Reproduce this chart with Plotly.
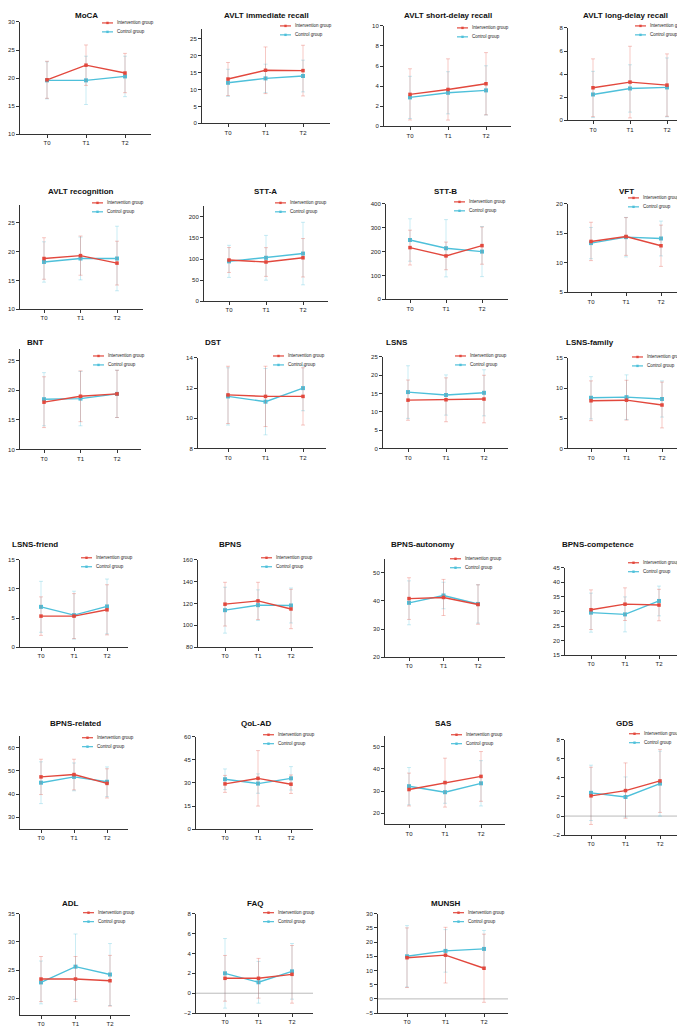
import math
import plotly.graph_objects as go

timepoints = ["T0", "T1", "T2"]
legend_labels = ["Intervention group", "Control group"]

# ---- data (mean, SD) ----
moca_int_mean = [19.7, 22.3, 20.9]; moca_int_sd = [3.3, 3.6, 3.5]
moca_ctl_mean = [19.6, 19.6, 20.3]; moca_ctl_sd = [3.3, 4.3, 3.6]

avltim_int_mean = [13.1, 15.7, 15.6]; avltim_int_sd = [4.9, 6.9, 7.5]
avltim_ctl_mean = [12.0, 13.3, 14.0]; avltim_ctl_sd = [4.0, 4.2, 4.7]

avltsd_int_mean = [3.18, 3.67, 4.24]; avltsd_int_sd = [2.55, 3.05, 3.1]
avltsd_ctl_mean = [2.88, 3.34, 3.58]; avltsd_ctl_sd = [2.1, 2.1, 2.45]

avltld_int_mean = [2.82, 3.31, 3.05]; avltld_int_sd = [2.5, 3.1, 2.7]
avltld_ctl_mean = [2.24, 2.76, 2.85]; avltld_ctl_sd = [2.0, 2.05, 2.55]

avltrec_int_mean = [18.8, 19.3, 18.0]; avltrec_int_sd = [3.6, 3.4, 3.8]
avltrec_ctl_mean = [18.2, 18.8, 18.8]; avltrec_ctl_sd = [3.5, 3.7, 5.6]

stta_int_mean = [97.7, 93.0, 103.0]; stta_int_sd = [29.5, 34.0, 45.5]
stta_ctl_mean = [94.5, 103.0, 113.0]; stta_ctl_sd = [38.0, 53.0, 74.0]

sttb_int_mean = [216.7, 181.9, 225.0]; sttb_int_sd = [73.0, 58.0, 78.0]
sttb_ctl_mean = [248.6, 214.0, 200.0]; sttb_ctl_sd = [89.0, 120.0, 105.0]

vft_int_mean = [13.63, 14.47, 12.9]; vft_int_sd = [3.25, 3.2, 3.5]
vft_ctl_mean = [13.35, 14.36, 14.13]; vft_ctl_sd = [2.65, 3.35, 2.95]

bnt_int_mean = [18.0, 19.0, 19.4]; bnt_int_sd = [4.3, 4.3, 4.0]
bnt_ctl_mean = [18.5, 18.6, 19.4]; bnt_ctl_sd = [4.5, 4.6, 4.0]

dst_int_mean = [11.55, 11.45, 11.45]; dst_int_sd = [1.9, 2.0, 1.9]
dst_ctl_mean = [11.45, 11.1, 12.0]; dst_ctl_sd = [1.9, 2.2, 1.5]

lsns_int_mean = [13.2, 13.3, 13.5]; lsns_int_sd = [5.5, 6.0, 6.5]
lsns_ctl_mean = [15.4, 14.6, 15.2]; lsns_ctl_sd = [7.2, 5.5, 6.3]

lsnsfam_int_mean = [7.9, 8.0, 7.2]; lsnsfam_int_sd = [3.3, 3.3, 3.8]
lsnsfam_ctl_mean = [8.4, 8.5, 8.2]; lsnsfam_ctl_sd = [3.5, 3.7, 3.0]

lsnsfr_int_mean = [5.34, 5.34, 6.42]; lsnsfr_int_sd = [3.3, 3.86, 4.3]
lsnsfr_ctl_mean = [6.93, 5.51, 7.0]; lsnsfr_ctl_sd = [4.37, 4.1, 4.7]

bpns_int_mean = [119.4, 122.4, 115.0]; bpns_int_sd = [20.0, 17.0, 18.0]
bpns_ctl_mean = [113.9, 118.5, 118.2]; bpns_ctl_sd = [21.0, 14.0, 16.0]

bpnsaut_int_mean = [40.8, 41.2, 38.7]; bpnsaut_int_sd = [7.4, 6.4, 7.0]
bpnsaut_ctl_mean = [39.3, 41.9, 38.9]; bpnsaut_ctl_sd = [7.8, 4.7, 6.8]

bpnscomp_int_mean = [30.6, 32.5, 32.2]; bpnscomp_int_sd = [6.8, 5.6, 5.4]
bpnscomp_ctl_mean = [29.6, 29.0, 33.6]; bpnscomp_ctl_sd = [6.7, 6.0, 5.1]

bpnsrel_int_mean = [47.4, 48.4, 44.6]; bpnsrel_int_sd = [7.6, 6.6, 6.3]
bpnsrel_ctl_mean = [44.9, 47.4, 45.3]; bpnsrel_ctl_sd = [9.0, 6.0, 6.4]

qol_int_mean = [29.4, 33.0, 29.2]; qol_int_sd = [5.5, 18.0, 6.0]
qol_ctl_mean = [32.4, 29.6, 33.0]; qol_ctl_sd = [6.7, 6.3, 7.6]

sas_int_mean = [30.7, 33.8, 36.6]; sas_int_sd = [7.4, 11.0, 11.2]
sas_ctl_mean = [32.2, 29.5, 33.5]; sas_ctl_sd = [8.4, 5.0, 10.2]

gds_int_mean = [2.12, 2.67, 3.68]; gds_int_sd = [3.0, 2.9, 3.3]
gds_ctl_mean = [2.43, 2.0, 3.4]; gds_ctl_sd = [2.9, 2.1, 3.4]

adl_int_mean = [23.4, 23.4, 23.1]; adl_int_sd = [4.0, 4.0, 4.5]
adl_ctl_mean = [22.8, 25.6, 24.2]; adl_ctl_sd = [3.8, 5.8, 5.5]

faq_int_mean = [1.5, 1.5, 1.9]; faq_int_sd = [2.3, 2.0, 2.9]
faq_ctl_mean = [2.0, 1.1, 2.2]; faq_ctl_sd = [3.5, 2.1, 2.8]

munsh_int_mean = [14.5, 15.4, 10.8]; munsh_int_sd = [10.5, 9.8, 12.0]
munsh_ctl_mean = [15.0, 16.9, 17.6]; munsh_ctl_sd = [10.8, 7.5, 6.5]

titles = ["MoCA", "AVLT immediate recall", "AVLT short-delay recall", "AVLT long-delay recall",
          "AVLT recognition", "STT-A", "STT-B", "VFT",
          "BNT", "DST", "LSNS", "LSNS-family",
          "LSNS-friend", "BPNS", "BPNS-autonomy", "BPNS-competence",
          "BPNS-related", "QoL-AD", "SAS", "GDS",
          "ADL", "FAQ", "MUNSH"]

series = [
    (moca_int_mean, moca_int_sd, moca_ctl_mean, moca_ctl_sd),
    (avltim_int_mean, avltim_int_sd, avltim_ctl_mean, avltim_ctl_sd),
    (avltsd_int_mean, avltsd_int_sd, avltsd_ctl_mean, avltsd_ctl_sd),
    (avltld_int_mean, avltld_int_sd, avltld_ctl_mean, avltld_ctl_sd),
    (avltrec_int_mean, avltrec_int_sd, avltrec_ctl_mean, avltrec_ctl_sd),
    (stta_int_mean, stta_int_sd, stta_ctl_mean, stta_ctl_sd),
    (sttb_int_mean, sttb_int_sd, sttb_ctl_mean, sttb_ctl_sd),
    (vft_int_mean, vft_int_sd, vft_ctl_mean, vft_ctl_sd),
    (bnt_int_mean, bnt_int_sd, bnt_ctl_mean, bnt_ctl_sd),
    (dst_int_mean, dst_int_sd, dst_ctl_mean, dst_ctl_sd),
    (lsns_int_mean, lsns_int_sd, lsns_ctl_mean, lsns_ctl_sd),
    (lsnsfam_int_mean, lsnsfam_int_sd, lsnsfam_ctl_mean, lsnsfam_ctl_sd),
    (lsnsfr_int_mean, lsnsfr_int_sd, lsnsfr_ctl_mean, lsnsfr_ctl_sd),
    (bpns_int_mean, bpns_int_sd, bpns_ctl_mean, bpns_ctl_sd),
    (bpnsaut_int_mean, bpnsaut_int_sd, bpnsaut_ctl_mean, bpnsaut_ctl_sd),
    (bpnscomp_int_mean, bpnscomp_int_sd, bpnscomp_ctl_mean, bpnscomp_ctl_sd),
    (bpnsrel_int_mean, bpnsrel_int_sd, bpnsrel_ctl_mean, bpnsrel_ctl_sd),
    (qol_int_mean, qol_int_sd, qol_ctl_mean, qol_ctl_sd),
    (sas_int_mean, sas_int_sd, sas_ctl_mean, sas_ctl_sd),
    (gds_int_mean, gds_int_sd, gds_ctl_mean, gds_ctl_sd),
    (adl_int_mean, adl_int_sd, adl_ctl_mean, adl_ctl_sd),
    (faq_int_mean, faq_int_sd, faq_ctl_mean, faq_ctl_sd),
    (munsh_int_mean, munsh_int_sd, munsh_ctl_mean, munsh_ctl_sd),
]

# ---- layout geometry (pixels) ----
W, H = 685, 1026
# (x_left, T0_px, T2_px, x_right, y_bottom_px, y_top_px, ymin, ymax, dtick, zero_line)
geom = [
    (12, 39, 117, 143, 124, 11, 10, 30, 5, False),
    (194, 220, 295, 322, 113, 17.8, 0, 28, 5, False),
    (376, 402, 478, 503, 116, 15, 0, 10, 2, False),
    (560, 585, 659, 683, 110, 17, 0, 8, 2, False),
    (12, 36, 109, 135, 300, 195.6, 10, 28, 5, False),
    (196, 221, 295, 320, 292, 196.4, 0, 225, 50, False),
    (378, 402, 474, 500, 290, 194, 0, 400, 100, False),
    (560, 583, 653, 677, 283, 194, 5, 20, 5, False),
    (12, 36, 109, 133, 441, 340, 10, 27, 5, False),
    (190, 220, 295, 318, 440, 349, 8, 14, 2, False),
    (375, 400, 476, 500, 440, 348, 0, 25, 5, False),
    (560, 583, 654, 677, 440, 349, 0, 15, 5, False),
    (12, 33, 99, 120, 640, 552, 0, 15, 5, False),
    (190, 217, 283, 305, 640, 552, 80, 160, 20, False),
    (377, 401, 470, 497, 650, 550.8, 20, 55, 10, False),
    (557, 583, 651, 673, 648, 560, 15, 45, 5, False),
    (12, 33, 99, 120, 822.7, 729.3, 25, 65, 10, False),
    (188, 217, 283, 305, 823, 730, 0, 60, 15, False),
    (377, 401, 473, 497, 818.2, 728.8, 15, 55, 10, False),
    (557, 583, 652, 675, 829, 733, -2, 8, 2, True),
    (12, 33, 102, 122, 1010, 908, 17, 35, 5, False),
    (188, 217, 284, 305, 1008, 908, -2, 8, 2, True),
    (370, 399, 476, 500, 1008, 908, -5, 30, 5, True),
]
# title centre (x, y) px
title_pos = [(78, 5), (258, 5), (440, 5), (617, 5),
             (73, 182), (257, 182), (437, 182), (618, 182),
             (27, 333), (205, 333), (389, 333), (582, 333),
             (27, 537), (222, 537), (415, 537), (590, 537),
             (67, 717), (248, 717), (435, 717), (617, 717),
             (62, 898), (247, 898), (438, 898)]
# legend line start x, first row y (px)
legend_pos = [(94, 12), (272, 15), (449, 17), (627, 15),
              (84, 193), (267, 193), (446, 192), (620, 188),
              (85, 347), (265, 347), (447, 347), (624, 348),
              (73, 550), (253, 550), (442, 551), (620, 555),
              (74, 731), (255, 728), (443, 728), (621, 727),
              (75, 907), (255, 907), (445, 907)]

RED = "#E2483D"
CYAN = "#4EC0DA"
RED_ERR = "rgba(226,72,61,0.30)"
CYAN_ERR = "rgba(78,192,218,0.30)"
FONT = "Liberation Sans, Arial, sans-serif"

fig = go.Figure()
layout = dict(width=W, height=H, margin=dict(l=0, r=0, t=0, b=0),
              paper_bgcolor="white", plot_bgcolor="white", showlegend=False,
              font=dict(family=FONT, color="#222"))
shapes = []
annotations = []


def px_x(v):
    return v / W


def px_y(v):
    return 1 - v / H


for i, (g, s) in enumerate(zip(geom, series)):
    n = i + 1
    xl, t0, t2, xr, yb, yt, ymin, ymax, dt, zero = g
    sp = (t2 - t0) / 2.0
    xr0 = -(t0 - xl) / sp
    xr1 = 2 + (xr - t2) / sp
    xa = "x" if n == 1 else f"x{n}"
    ya = "y" if n == 1 else f"y{n}"
    xkey = "xaxis" if n == 1 else f"xaxis{n}"
    ykey = "yaxis" if n == 1 else f"yaxis{n}"
    im, isd, cm, csd = s
    fig.add_trace(go.Scatter(
        x=[0, 1, 2], y=cm, xaxis=xa, yaxis=ya, mode="lines+markers",
        line=dict(color=CYAN, width=1.4), marker=dict(symbol="square", size=4, color=CYAN),
        error_y=dict(type="data", array=csd, visible=True, color=CYAN_ERR, thickness=1, width=2),
        name=legend_labels[1], cliponaxis=False))
    fig.add_trace(go.Scatter(
        x=[0, 1, 2], y=im, xaxis=xa, yaxis=ya, mode="lines+markers",
        line=dict(color=RED, width=1.4), marker=dict(symbol="square", size=3.5, color=RED),
        error_y=dict(type="data", array=isd, visible=True, color=RED_ERR, thickness=1, width=2),
        name=legend_labels[0], cliponaxis=False))
    tickvals = []
    v = math.ceil(ymin / dt - 1e-9) * dt
    while v <= ymax + 1e-9:
        tickvals.append(v)
        v += dt
    layout[xkey] = dict(domain=[px_x(xl), px_x(xr)], range=[xr0, xr1], anchor=ya,
                        tickvals=[0, 1, 2], ticktext=timepoints, showgrid=False, zeroline=False,
                        showline=True, linecolor="#333", linewidth=1, ticks="outside",
                        ticklen=3, tickwidth=1, tickcolor="#333",
                        tickfont=dict(size=6, family=FONT, color="#222"), fixedrange=True)
    layout[ykey] = dict(domain=[px_y(yb), px_y(yt)], range=[ymin, ymax], anchor=xa,
                        tickvals=tickvals, showgrid=False, zeroline=False,
                        showline=True, linecolor="#333", linewidth=1, ticks="outside",
                        ticklen=3, tickwidth=1, tickcolor="#333",
                        tickfont=dict(size=6, family=FONT, color="#222"), fixedrange=True)
    if zero:
        shapes.append(dict(type="line", xref=f"{xa} domain", x0=0, x1=1, yref=ya, y0=0, y1=0,
                           line=dict(color="#BBBBBB", width=1), layer="below"))
    # title
    tx, ty = title_pos[i]
    annotations.append(dict(text=f"<b>{titles[i]}</b>", x=px_x(tx), y=px_y(ty), xref="paper", yref="paper",
                            showarrow=False, xanchor="center", yanchor="middle",
                            font=dict(size=8, family=FONT, color="#111")))
    # legend
    lx, ly = legend_pos[i]
    for k, (col, lab) in enumerate([(RED, legend_labels[0]), (CYAN, legend_labels[1])]):
        yy = ly + k * 9
        shapes.append(dict(type="line", xref="paper", yref="paper", x0=px_x(lx), x1=px_x(lx + 11),
                           y0=px_y(yy), y1=px_y(yy), line=dict(color=col, width=1.2)))
        shapes.append(dict(type="rect", xref="paper", yref="paper", x0=px_x(lx + 4.3), x1=px_x(lx + 6.7),
                           y0=px_y(yy + 1.2), y1=px_y(yy - 1.2), line=dict(width=0), fillcolor=col))
        annotations.append(dict(text=lab, x=px_x(lx + 13), y=px_y(yy), xref="paper", yref="paper",
                                showarrow=False, xanchor="left", yanchor="middle",
                                font=dict(size=4.5, family=FONT, color="#222")))

layout["shapes"] = shapes
layout["annotations"] = annotations
fig.update_layout(**layout)
fig.write_html("out.html")
